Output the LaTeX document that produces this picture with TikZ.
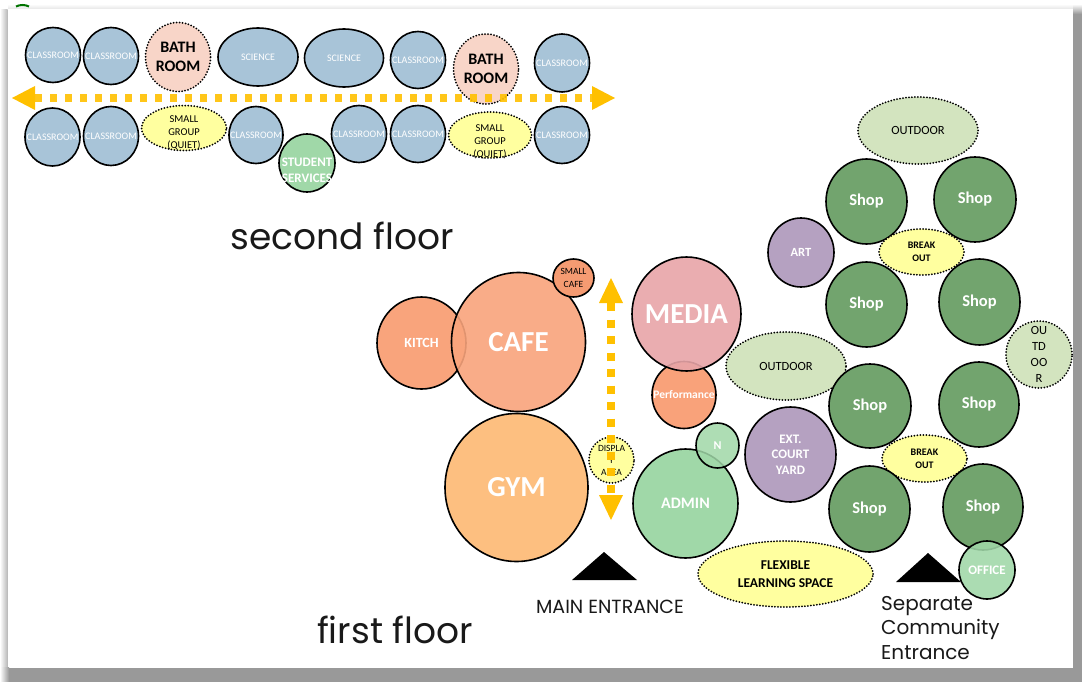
\documentclass[tikz,border=0pt]{standalone}
\usepackage{fontspec}
\setmainfont{Carlito}
\newfontfamily\gothic{Poppins}
\usetikzlibrary{shapes.geometric,arrows.meta}
\definecolor{clsblue}{HTML}{A8C4D8}
\definecolor{pinkb}{HTML}{F8D5C8}
\definecolor{yel}{HTML}{FFFF9F}
\definecolor{ssgreen}{HTML}{A0D8A8}
\definecolor{cafeor}{HTML}{F9A47C}
\definecolor{smcafe}{HTML}{F59B72}
\definecolor{gymor}{HTML}{FDBF80}
\definecolor{mediap}{HTML}{E8A5A8}
\definecolor{perfor}{HTML}{F9A27A}
\definecolor{purp}{HTML}{B5A1C1}
\definecolor{shopg}{HTML}{72A46E}
\definecolor{outg}{HTML}{D3E4BF}
\definecolor{arrowy}{HTML}{FFC000}
\definecolor{shadowg}{HTML}{999999}
\begin{document}
\begin{tikzpicture}[x=1pt,y=-1pt,
  ell/.style 2 args={ellipse, inner sep=0pt, minimum width=#1, minimum height=#2},
  solidb/.style={draw=black, line width=1.6pt},
  dotb/.style={draw=black, line width=2pt, dash pattern=on 0pt off 3pt, line cap=round},
  wr/.style 2 args={text=white, align=center, inner sep=0pt, font=\fontsize{#1}{#2}\selectfont},
  wb/.style 2 args={text=white, align=center, inner sep=0pt, font=\bfseries\fontsize{#1}{#2}\selectfont},
  kr/.style 2 args={text=black, align=center, inner sep=0pt, font=\fontsize{#1}{#2}\selectfont},
  kb/.style 2 args={text=black, align=center, inner sep=0pt, font=\bfseries\fontsize{#1}{#2}\selectfont},
  classroom/.style={solidb, fill=clsblue, label={[wr={10}{11}]center:CLASSROOM}},
  science/.style={solidb, fill=clsblue, label={[wr={10}{11}]center:SCIENCE}},
  bath/.style={dotb, fill=pinkb, label={[kb={16}{19}]center:{BATH\\ROOM}}},
  smallgroup/.style={dotb, fill=yel, label={[kr={10.5}{13}, yshift=#1]center:{SMALL\\GROUP\\(QUIET)}}},
  shop/.style={solidb, fill=shopg, label={[wb={16.5}{19}]center:Shop}},
  breakout/.style={dotb, fill=yel, label={[kb={10}{13}]center:{BREAK\\OUT}}},
  outdoor/.style={dotb, fill=outg},
  corridor/.style={draw=arrowy, line width=7.5pt, dash pattern=on 7pt off 8pt,
    arrows={Triangle[length=23pt,width=24pt,line width=0pt]-Triangle[length=23pt,width=24pt,line width=0pt]}},
  vcorridor/.style={draw=arrowy, line width=8pt, dash pattern=on 8pt off 8.5pt,
    arrows={Triangle[length=25pt,width=24pt,line width=0pt]-Triangle[length=25pt,width=24pt,line width=0pt]}},
  title/.style={font=\gothic\fontsize{36}{40}\selectfont, text=black!90, inner sep=0pt},
  entr/.style={font=\gothic\fontsize{#1}{1.22\dimexpr#1pt\relax}\selectfont, text=black!90, inner sep=0pt, align=left}
]
% ---------- page and shadow ----------
\useasboundingbox (0,0) rectangle (1082,682);
\fill[white] (0,0) rectangle (1082,682);
\shade[left color=white, right color=black!28] (0,10) rectangle (7.5,667);
\shade[top color=white, bottom color=black!10] (8,4) rectangle (1073,9);
\fill[shadowg] (1073,12) rectangle (1082,682);
\fill[shadowg] (8,667.5) rectangle (1082,682);
\shade[top color=white, bottom color=shadowg] (1073,4) rectangle (1082,14);
\shade[left color=white, right color=shadowg] (0,667.5) rectangle (9,682);
\draw[green!45!black, line width=2pt] (16,6.5) .. controls (20,4.5) and (25,4.5) .. (29,6.5);

% ---------- second floor ----------
\node[ell={55}{55}, classroom] (c1) at (53,55) {};
\node[ell={55}{57}, classroom] (c2) at (111,56) {};
\node[ell={65}{69}, bath] (b1) at (178,57) {};
\node[ell={80}{58}, science] (s1) at (258,57) {};
\node[ell={79}{58}, science] (s2) at (344,58) {};
\node[ell={55}{57}, classroom] (c3) at (418,60) {};
\node[ell={65}{70}, bath] (b2) at (486,69) {};
\node[ell={55}{58}, classroom] (c4) at (562,63) {};

\node[ell={55}{58}, classroom] (c5) at (52.5,137) {};
\node[ell={55}{59}, classroom] (c6) at (111,136) {};
\node[ell={85}{45}, smallgroup=-5pt] (g1) at (184,128) {};
\node[ell={54}{57}, classroom] (c7) at (256,135) {};
\node[ell={56}{58}, solidb, fill=ssgreen,
  label={[wb={13}{16}, yshift=-7pt]center:{STUDENT\\SERVICES}}] (ss) at (307,163) {};
\node[ell={55}{57}, classroom] (c8) at (359,134) {};
\node[ell={55}{57}, classroom] (c9) at (418,134) {};
\node[ell={83}{46}, smallgroup=-6.5pt] (g2) at (490,135) {};
\node[ell={55}{57}, classroom] (c10) at (562,135) {};

\coordinate (ta) at (12,98);
\coordinate (tb) at (615,98);
\draw[corridor, draw opacity=0.9] (ta) -- (tb);

\node[title] (sf) at (342,236) {second floor};

% ---------- first floor ----------
\node[ell={89}{92}, solidb, fill=cafeor, label={[wb={14}{17}]center:KITCH}] (kitch) at (421.5,343) {};
\node[ell={134}{139}, solidb, fill=cafeor, fill opacity=0.9, label={[wb={29}{34}]center:CAFE}] (cafe) at (518.5,342) {};
\node[ell={41}{38}, solidb, fill=smcafe, label={[kr={9.5}{12.5}]center:{SMALL\\CAFE}}] (scafe) at (573.5,278) {};
\node[ell={143}{148}, solidb, fill=gymor, label={[wb={29}{34}]center:GYM}] (gym) at (516.5,487.5) {};
\node[ell={64}{67}, solidb, fill=perfor, label={[wb={11.5}{14}]center:Performance}] (perf) at (684,395) {};
\node[ell={109}{114}, solidb, fill=mediap, fill opacity=0.9, label={[wb={29}{34}]center:MEDIA}] (media) at (686.5,314) {};
\node[ell={105}{109}, solidb, fill=ssgreen, label={[wb={16}{19}]center:ADMIN}] (admin) at (685.5,503.5) {};
\node[ell={43}{45}, solidb, fill=ssgreen, fill opacity=0.85, label={[wb={12}{14}]center:N}] (nn) at (717.5,445.5) {};
\node[ell={45}{46}, dotb, fill=yel, label={[kr={9.5}{12}]center:{DISPLA\\Y\\AREA}}] (disp) at (611.5,460) {};

\coordinate (va) at (611,278);
\coordinate (vb) at (611,520);
\draw[vcorridor] (va) -- (vb);

% ---------- right wing ----------
\node[ell={120}{68}, outdoor, label={[kr={12.5}{15}]center:OUTDOOR}] (out3) at (786,366) {};
\node[ell={120}{67}, outdoor, label={[kr={12.5}{15}]center:OUTDOOR}] (out1) at (918,130.5) {};
\node[ell={81}{85}, shop] (sh1) at (866.5,201.5) {};
\node[ell={82}{85}, shop] (sh2) at (975,199.5) {};
\node[ell={66}{69}, solidb, fill=purp, label={[wb={12.5}{15}]center:ART}] (art) at (801,252.5) {};
\node[ell={85}{46}, breakout] (bo1) at (921.5,252) {};
\node[ell={81}{85}, shop] (sh3) at (866.5,304.5) {};
\node[ell={81}{86}, shop] (sh4) at (979.5,302) {};
\node[ell={66}{67}, outdoor, label={[kr={12.5}{16}]center:{OU\\TD\\OO\\R}}] (out2) at (1039,354.5) {};
\node[ell={82}{84}, shop] (sh5) at (870,406) {};
\node[ell={80}{85}, shop] (sh6) at (979,404.5) {};
\node[ell={91}{95}, solidb, fill=purp, label={[wb={13}{15.5}]center:{EXT.\\COURT\\YARD}}] (ext) at (790.5,454.5) {};
\node[ell={85}{47}, breakout] (bo2) at (924.5,458.5) {};
\node[ell={81}{86}, shop] (sh7) at (869.5,509) {};
\node[ell={80}{86}, shop] (sh8) at (983,507) {};

% ---------- entrances ----------
\coordinate (me1) at (572,580); \coordinate (me2) at (604,552); \coordinate (me3) at (637,580);
\fill[black] (me1) -- (me2) -- (me3) -- cycle;
\coordinate (se1) at (896,582); \coordinate (se2) at (928,553); \coordinate (se3) at (961,582);
\fill[black] (se1) -- (se2) -- (se3) -- cycle;

\node[ell={175}{66}, dotb, fill=yel, label={[kb={13.5}{18}]center:{FLEXIBLE\\LEARNING SPACE}}] (flex) at (785.5,574) {};
\node[ell={56}{58}, solidb, fill=ssgreen, fill opacity=0.88, label={[wb={13}{15}]center:OFFICE}] (office) at (987,570) {};

\node[entr=19] (mainent) at (610,607) {MAIN ENTRANCE};
\node[entr=20, anchor=west] (sepent) at (881,628) {Separate\\Community\\Entrance};
\node[title] (ff) at (395,630) {first floor};
\end{tikzpicture}
\end{document}
